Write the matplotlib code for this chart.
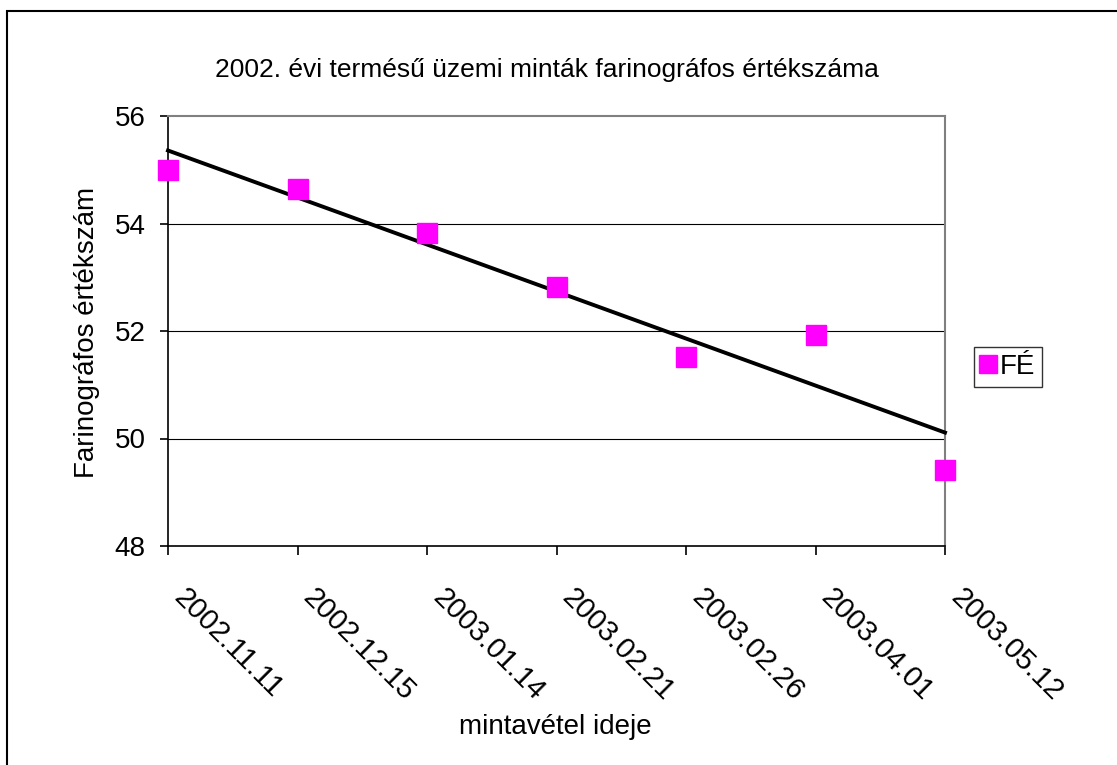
import numpy as np
import matplotlib.pyplot as plt
from matplotlib.patches import Rectangle
from matplotlib.lines import Line2D

plt.rcParams['font.family'] = ['Liberation Sans', 'DejaVu Sans']

# adatok a diagramról leolvasva
dates = ['2002.11.11', '2002.12.15', '2003.01.14', '2003.02.21',
         '2003.02.26', '2003.04.01', '2003.05.12']
fe_values = [55.0, 54.64, 53.82, 52.82, 51.52, 51.93, 49.41]
y_ticks = [48, 50, 52, 54, 56]

fig = plt.figure(figsize=(11.17, 7.65), dpi=100)
W, H = 1117, 765

# külső keret (csak bal és felső éle látszik)
fig.patches.append(Rectangle((7 / W, -0.1), 1.2, 1 - 11 / H + 0.1,
                             transform=fig.transFigure, fill=False,
                             edgecolor='black', linewidth=1.5))

ax = fig.add_axes([168 / W, 1 - 546 / H, (945 - 168) / W, (546 - 116) / H])

x = np.arange(len(dates))
ax.set_xlim(0, len(dates) - 1)
ax.set_ylim(48, 56)

# rácsvonalak
for yv in y_ticks[1:-1]:
    ax.axhline(yv, color='black', linewidth=0.8, zorder=1)

# lineáris trendvonal
k, b = np.polyfit(x, fe_values, 1)
ax.plot(x, k * x + b, color='black', linewidth=2.8, zorder=3, clip_on=False)

ax.plot(x, fe_values, linestyle='none', marker='s', markersize=15,
        color='#ff00ff', zorder=4, clip_on=False)

for side in ['top', 'right']:
    ax.spines[side].set_color('#808080')
    ax.spines[side].set_linewidth(1.5)
for side in ['left', 'bottom']:
    ax.spines[side].set_color('black')
    ax.spines[side].set_linewidth(1.2)

ax.set_yticks(y_ticks)
ax.set_yticklabels([str(v) for v in y_ticks], fontsize=20)
ax.tick_params(axis='y', direction='out', length=6, width=1.2, pad=10)
ax.set_xticks(x)
ax.set_xticklabels([])
ax.tick_params(axis='x', direction='out', length=6.5, width=1.2)

# ferde dátumfeliratok
for xi, lbl in zip(x, dates):
    ax.annotate(lbl, xy=(xi, 0), xycoords=('data', 'axes fraction'),
                xytext=(20, -37), textcoords='offset pixels',
                fontsize=21, rotation=-45, ha='left', va='top',
                rotation_mode='anchor', annotation_clip=False)

fig.text(87 / W, 1 - 332 / H, 'Farinográfos értékszám', fontsize=20,
         rotation=90, ha='center', va='center')
fig.text(555 / W, 1 - 727 / H, 'mintavétel ideje', fontsize=20,
         ha='center', va='center')
fig.text(547 / W, 1 - 70 / H,
         '2002. évi termésű üzemi minták farinográfos értékszáma',
         fontsize=19, ha='center', va='center')

handle = Line2D([], [], linestyle='none', marker='s', markersize=13,
                color='#ff00ff')
leg = fig.legend([handle], ['FÉ'], loc='center',
                 bbox_to_anchor=(1008 / W, 1 - 367 / H), fontsize=20,
                 frameon=True, fancybox=False, edgecolor='black',
                 handlelength=0.5, handletextpad=0.15, borderpad=0.25,
                 borderaxespad=0)
leg.get_frame().set_linewidth(1.0)

plt.savefig('out.png', dpi=100)
